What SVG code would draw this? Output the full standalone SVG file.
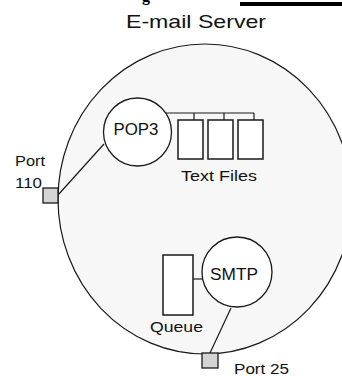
<svg xmlns="http://www.w3.org/2000/svg" width="342" height="376" viewBox="0 0 342 376">
  <style>
    .lbl { font-family: "Liberation Sans", Arial, sans-serif; fill: #111; }
    .edge { fill: none; stroke: #1a1a1a; stroke-width: 1.2; }
    .proc { fill: #ffffff; stroke: #1a1a1a; stroke-width: 1.3; }
    .box { fill: #ffffff; stroke: #1a1a1a; stroke-width: 1.5; }
    .port { fill: #d4d4d4; stroke: #1a1a1a; stroke-width: 1.3; }
  </style>
  <rect width="342" height="376" fill="#ffffff"/>

  <!-- bits of the page heading above -->
  <text x="142" y="0.5" font-family="'Liberation Serif', serif" font-weight="bold" font-size="16" fill="#000">g</text>
  <rect x="240" y="2" width="102" height="4" fill="#000"/>

  <text class="lbl" x="196" y="28" font-size="19" text-anchor="middle" textLength="140" lengthAdjust="spacingAndGlyphs">E-mail Server</text>

  <!-- server boundary -->
  <g id="server">
    <ellipse cx="205" cy="199" rx="147" ry="155" fill="#f7f7f7" stroke="#1a1a1a" stroke-width="1.2"/>
  </g>

  <g id="connectors">
    <line class="edge" x1="58" y1="195" x2="104" y2="144"/>
    <polyline class="edge" points="166,113 254,113"/>
    <line class="edge" x1="194" y1="113" x2="194" y2="120"/>
    <line class="edge" x1="224" y1="113" x2="224" y2="120"/>
    <line class="edge" x1="254" y1="113" x2="254" y2="120"/>
    <line class="edge" x1="193" y1="279" x2="203" y2="279"/>
    <line class="edge" x1="231" y1="308" x2="210" y2="353"/>
  </g>

  <g id="pop3">
    <circle class="proc" cx="137.5" cy="132" r="34"/>
    <text class="lbl" x="136" y="135" font-size="16" text-anchor="middle" textLength="45" lengthAdjust="spacingAndGlyphs">POP3</text>
  </g>

  <g id="text-files">
    <rect class="box" x="178" y="120" width="25" height="39"/>
    <rect class="box" x="208" y="120" width="25" height="39"/>
    <rect class="box" x="238" y="120" width="25" height="39"/>
    <text class="lbl" x="181" y="181" font-size="15" textLength="76" lengthAdjust="spacingAndGlyphs">Text Files</text>
  </g>

  <g id="port-110">
    <rect class="port" x="43" y="188" width="15" height="15"/>
    <text class="lbl" x="15" y="166" font-size="14" textLength="30" lengthAdjust="spacingAndGlyphs">Port</text>
    <text class="lbl" x="15" y="188" font-size="15" textLength="27" lengthAdjust="spacingAndGlyphs">110</text>
  </g>

  <g id="queue">
    <rect class="box" x="163" y="255" width="30" height="60"/>
    <text class="lbl" x="150" y="332" font-size="14" textLength="53" lengthAdjust="spacingAndGlyphs">Queue</text>
  </g>

  <g id="smtp">
    <circle class="proc" cx="237" cy="272" r="35"/>
    <text class="lbl" x="234" y="280" font-size="16" text-anchor="middle" textLength="48" lengthAdjust="spacingAndGlyphs">SMTP</text>
  </g>

  <g id="port-25">
    <rect class="port" x="202" y="353" width="16" height="15"/>
    <text class="lbl" x="234" y="374" font-size="14.5" textLength="55" lengthAdjust="spacingAndGlyphs">Port 25</text>
  </g>
</svg>
